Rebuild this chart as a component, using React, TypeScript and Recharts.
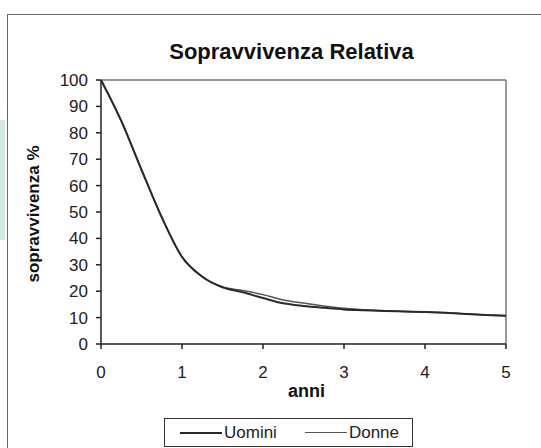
import { LineChart, Line, XAxis, YAxis, Legend, ReferenceLine } from "recharts";

// anni dalla diagnosi
const anni = [0, 0.25, 0.5, 0.75, 1, 1.25, 1.5, 1.75, 2, 2.25, 2.5, 2.75, 3, 3.25, 3.5, 3.75, 4, 4.25, 4.5, 4.75, 5];

// sopravvivenza relativa %
const uomini = [100, 84.5, 66, 48, 33, 25.5, 21.5, 19.6, 17.4, 15.4, 14.4, 13.7, 13.1, 12.8, 12.5, 12.3, 12.1, 11.8, 11.4, 11.0, 10.7];
const donne = [100, 84.5, 66, 48, 33, 25.5, 21.6, 20.3, 18.7, 16.7, 15.5, 14.4, 13.5, 13.0, 12.6, 12.3, 12.1, 11.8, 11.4, 11.0, 10.7];

const serie = ["Uomini", "Donne"];
const xTicks = [0, 1, 2, 3, 4, 5];
const yTicks = [0, 10, 20, 30, 40, 50, 60, 70, 80, 90, 100];

const data = anni.map((a, i) => ({ anni: a, Uomini: uomini[i], Donne: donne[i] }));

const font = "Arial, 'Liberation Sans', sans-serif";

const LegendBox = (props: any) => {
  const items = [...(props.payload || [])].sort((a: any, b: any) => serie.indexOf(a.value) - serie.indexOf(b.value));
  return (
    <div
      style={{
        width: 249,
        height: 29,
        boxSizing: "border-box",
        border: "1px solid #333",
        background: "#fff",
        display: "flex",
        alignItems: "center",
        fontFamily: font,
        fontSize: 17,
        color: "#222",
      }}
    >
      {items.map((it: any, i: number) => (
        <div key={it.value} style={{ display: "flex", alignItems: "center", marginLeft: i === 0 ? 15 : 28 }}>
          <div style={{ width: 42, height: 0, borderTop: `${i === 0 ? 2 : 1.5}px solid ${it.color}` }} />
          <span style={{ marginLeft: 2 }}>{it.value}</span>
        </div>
      ))}
    </div>
  );
};

const YLabel = () => (
  <text
    x={33}
    y={214}
    transform="rotate(-90, 33, 214)"
    textAnchor="middle"
    dominantBaseline="central"
    fill="#111"
    fontSize={17}
    fontWeight="bold"
    fontFamily={font}
  >
    sopravvivenza %
  </text>
);

export default function App() {
  return (
    <div style={{ position: "absolute", left: 0, top: 0, width: 541, height: 448, background: "#fff", overflow: "hidden" }}>
      <div style={{ position: "absolute", left: 0, top: 120, width: 5, height: 120, background: "#d3e8df" }} />
      <div
        style={{
          position: "absolute",
          left: 7,
          top: 14,
          width: 560,
          height: 460,
          borderLeft: "1.5px solid #666",
          borderTop: "1.5px solid #666",
        }}
      />
      <div
        style={{
          position: "absolute",
          left: 0,
          top: 39,
          width: 583,
          textAlign: "center",
          fontFamily: font,
          fontWeight: "bold",
          fontSize: 22,
          color: "#111",
        }}
      >
        Sopravvivenza Relativa
      </div>
      <div style={{ position: "absolute", left: 0, top: 0 }}>
        <LineChart width={541} height={448} data={data} margin={{ top: 80, right: 35, left: 0, bottom: 1 }}>
          <ReferenceLine y={100} stroke="#777" strokeWidth={1.5} />
          <ReferenceLine x={5} stroke="#777" strokeWidth={1.5} />
          <XAxis
            dataKey="anni"
            type="number"
            domain={[0, 5]}
            ticks={xTicks}
            height={74}
            stroke="#222"
            strokeWidth={1.5}
            tickSize={5}
            tickMargin={17}
            tick={{ fill: "#222", fontSize: 17, fontFamily: font }}
            label={{ value: "anni", position: "insideBottom", offset: 21, dx: 3, fill: "#111", fontSize: 18, fontWeight: "bold", fontFamily: font }}
          />
          <YAxis
            type="number"
            domain={[0, 100]}
            ticks={yTicks}
            width={101}
            interval={0}
            stroke="#222"
            strokeWidth={1.5}
            tickSize={5}
            tickMargin={8}
            tick={{ fill: "#222", fontSize: 17, fontFamily: font }}
            label={{ content: () => <YLabel /> }}
          />
          <Legend verticalAlign="bottom" content={<LegendBox />} wrapperStyle={{ left: 164, width: 249 }} />
          <Line type="monotone" dataKey="Donne" stroke="#555" strokeWidth={1.5} dot={false} isAnimationActive={false} />
          <Line type="monotone" dataKey="Uomini" stroke="#2a2a2a" strokeWidth={2} dot={false} isAnimationActive={false} />
        </LineChart>
      </div>
    </div>
  );
}
